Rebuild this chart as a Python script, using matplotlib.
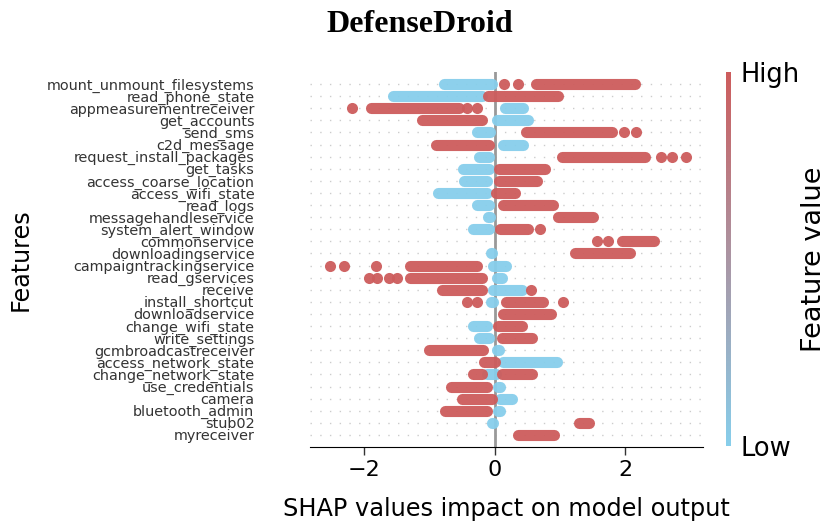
import matplotlib.pyplot as plt
import numpy as np
from matplotlib.colors import LinearSegmentedColormap
from matplotlib.cm import ScalarMappable

# dados (de cima para baixo)
features = ['mount_unmount_filesystems', 'read_phone_state', 'appmeasurementreceiver',
            'get_accounts', 'send_sms', 'c2d_message', 'request_install_packages',
            'get_tasks', 'access_coarse_location', 'access_wifi_state', 'read_logs',
            'messagehandleservice', 'system_alert_window', 'commonservice',
            'downloadingservice', 'campaigntrackingservice', 'read_gservices', 'receive',
            'install_shortcut', 'downloadservice', 'change_wifi_state', 'write_settings',
            'gcmbroadcastreceiver', 'access_network_state', 'change_network_state',
            'use_credentials', 'camera', 'bluetooth_admin', 'stub02', 'myreceiver']

# faixas de valores SHAP (bordas externas) para valores baixos da feature
blue_ranges = [(-0.86, 0.05), (-1.64, -0.11), (0.07, 0.52), (-0.05, 0.60), (-0.35, 0.02),
               (0.04, 0.52), (-0.32, 0.00), (-0.57, 0.00), (-0.55, -0.04), (-0.96, -0.04),
               (-0.35, 0.00), (-0.19, 0.02), (-0.42, 0.00), (-0.15, 0.02), (-0.15, 0.05),
               (-0.11, 0.25), (-0.05, 0.20), (-0.11, 0.50), (-0.15, 0.06), (-0.15, 0.02),
               (-0.42, -0.04), (-0.32, 0.00), (-0.05, 0.15), (0.04, 1.04), (-0.20, 0.10),
               (-0.04, 0.16), (0.00, 0.35), (-0.04, 0.16), (-0.12, 0.06), (-0.12, 0.04)]

# faixas para valores altos da feature
red_ranges = [[(0.55, 2.23)], [(-0.19, 1.06)], [(-1.98, -0.47)], [(-1.20, -0.11)],
              [(0.40, 1.88)], [(-0.98, -0.01)], [(0.94, 2.39)], [(-0.02, 0.86)],
              [(-0.02, 0.73)], [(-0.06, 0.40)], [(0.04, 0.98)], [(0.88, 1.59)],
              [(-0.01, 0.60)], [(1.86, 2.52)], [(1.14, 2.16)], [(-1.39, -0.19)],
              [(-1.39, -0.11)], [(-0.90, -0.11)], [(0.09, 0.83)], [(0.04, 0.94)],
              [(-0.04, 0.50)], [(0.03, 0.65)], [(-1.09, -0.09)], [(-0.25, 0.09)],
              [(-0.42, -0.11), (0.02, 0.65)], [(-0.75, -0.04)], [(-0.58, 0.04)],
              [(-0.85, -0.04)], [(1.21, 1.53)], [(0.27, 0.99)]]

# pontos isolados (centros)
red_dots = [[0.14, 0.36], [], [-2.19, -0.42, -0.27], [], [1.98, 2.16], [],
            [2.54, 2.72, 2.93], [], [], [], [], [], [0.70], [1.57, 1.73], [],
            [-2.52, -2.31, -1.82], [-1.93, -1.80, -1.62, -1.49], [0.55],
            [-0.42, -0.27, 1.04], [], [], [], [], [], [], [], [], [], [], []]

BLUE = '#87CEEB'
RED = '#CD5C5C'

fig = plt.figure(figsize=(8.27, 5.25), dpi=100)
ax = fig.add_axes([310/827, 1-447/525, 393/827, 375/525])
n = len(features)
xmin, xmax = -2.83, 3.19
ax.set_xlim(xmin, xmax)
ax.set_ylim(-1, n)

lw = 8.0  # pontos
px_por_unid = ax.get_position().width * 827 / (xmax - xmin)
r = (lw * 100 / 72) / 2 / px_por_unid

for i in range(n):
    y = n - 1 - i
    ax.axhline(y, color='#cccccc', lw=1, dashes=(1, 6), zorder=-1)

ax.axvline(0, color='#999999', lw=2, zorder=1)

for i in range(n):
    y = n - 1 - i
    lo, hi = blue_ranges[i]
    ax.plot([lo + r, max(hi - r, lo + r)], [y, y], color=BLUE, lw=lw,
            solid_capstyle='round', alpha=0.95, zorder=3)
    for lo, hi in red_ranges[i]:
        ax.plot([lo + r, max(hi - r, lo + r)], [y, y], color=RED, lw=lw,
                solid_capstyle='round', alpha=0.95, zorder=3)
    if red_dots[i]:
        ax.scatter(red_dots[i], [y] * len(red_dots[i]), s=lw**2, color=RED,
                   lw=0, alpha=0.95, zorder=3)

ax.set_yticks(range(n))
ax.set_yticklabels(features[::-1], fontsize=10.4, color='#333333')
ax.tick_params(axis='y', length=0, pad=40)
ax.set_xticks([-2, 0, 2])
ax.set_xticklabels(['\u22122', '0', '2'])
ax.tick_params(axis='x', labelsize=16, length=6, width=1, color='#333333')
for s in ['top', 'right', 'left']:
    ax.spines[s].set_visible(False)
ax.set_xlabel('SHAP values impact on model output', fontsize=17.3, labelpad=12)
ax.set_ylabel('Features', fontsize=17.2)
ax.yaxis.set_label_coords(-0.705, 0.5)

fig.text(420/827, 1-24/525, 'DefenseDroid', family='Liberation Serif', weight='bold',
         fontsize=23, ha='center', va='center')

cmap = LinearSegmentedColormap.from_list('shap', [BLUE, RED])
cax = fig.add_axes([726/827, 1-446/525, 5/827, 374/525])
cb = fig.colorbar(ScalarMappable(cmap=cmap), cax=cax)
cb.outline.set_visible(False)
cb.set_ticks([0, 1])
cb.set_ticklabels(['Low', 'High'])
cb.ax.tick_params(labelsize=18.5, length=0, pad=7)
cb.set_label('Feature value', fontsize=19.5, labelpad=1)

fig.savefig('out.png', dpi=100)
